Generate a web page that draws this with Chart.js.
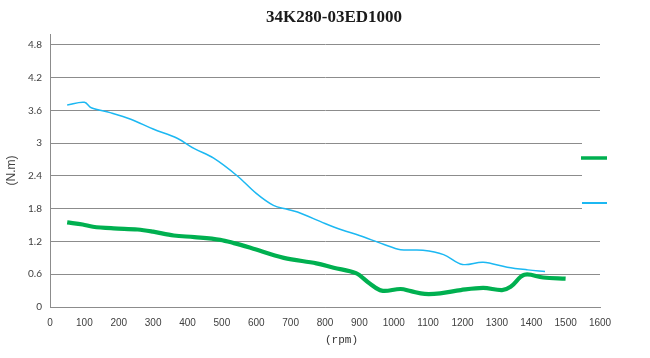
<!DOCTYPE html>
<html>
<head>
<meta charset="utf-8">
<script src="https://cdn.jsdelivr.net/npm/chart.js@4/dist/chart.umd.min.js"></script>
<style>
html,body{margin:0;padding:0;background:#fff;}
#wrap{width:650px;height:358px;position:relative;}
</style>
</head>
<body>
<div id="wrap"><canvas id="c" width="650" height="358"></canvas></div>
<script>
const chartTitle = '34K280-03ED1000';
const xTitle = '     (rpm)';
const yTitle = '(N.m)';
const xTicks = [0,100,200,300,400,500,600,700,800,900,1000,1100,1200,1300,1400,1500,1600];
const yTicks = [0,0.6,1.2,1.8,2.4,3,3.6,4.2,4.8];
const yTickLabels = ['0','0.6','1.2','1.8','2.4','3','3.6','4.2','4.8'];

const greenRpm = [50,95,125,185,255,300,360,420,495,535,585,680,775,825,890,930,965,1020,1050,1090,1135,1195,1260,1315,1340,1380,1435,1500];
const greenTorque = [1.55,1.51,1.47,1.44,1.42,1.38,1.31,1.28,1.23,1.17,1.08,0.90,0.80,0.72,0.62,0.43,0.30,0.33,0.29,0.24,0.25,0.31,0.35,0.31,0.37,0.59,0.54,0.52];

const blueRpm = [50,100,120,175,235,300,370,420,475,545,600,650,690,720,800,850,900,970,1020,1085,1145,1200,1260,1330,1390,1440];
const blueTorque = [3.70,3.75,3.65,3.56,3.44,3.26,3.09,2.90,2.73,2.40,2.08,1.86,1.79,1.74,1.53,1.41,1.31,1.15,1.05,1.04,0.96,0.78,0.82,0.73,0.68,0.65];

const toPts = (xs, ys) => xs.map((x, i) => ({x: x, y: ys[i]}));

const legendPlugin = {
  id: 'sideLegend',
  afterDraw(chart) {
    const ctx = chart.ctx;
    const a = chart.chartArea;
    const mid = (a.top + a.bottom) / 2;
    ctx.save();
    ctx.fillStyle = '#ffffff';
    ctx.fillRect(a.right - 18, mid - 38, 30, 82);
    const rows = [mid - 12.5, mid + 32.5];
    chart.data.datasets.forEach((ds, i) => {
      ctx.strokeStyle = ds.borderColor;
      ctx.lineWidth = i === 0 ? 3.5 : 2;
      ctx.beginPath();
      ctx.moveTo(a.right - 19 + (i === 0 ? 0 : 1), rows[i]);
      ctx.lineTo(a.right + 7, rows[i]);
      ctx.stroke();
    });
    ctx.restore();
  }
};

new Chart(document.getElementById('c'), {
  type: 'line',
  data: {
    datasets: [
      {
        label: '',
        data: toPts(greenRpm, greenTorque),
        borderColor: '#00b050',
        borderWidth: 4.2,
        pointRadius: 0,
        tension: 0.35,
        fill: false
      },
      {
        label: '',
        data: toPts(blueRpm, blueTorque),
        borderColor: '#1cb8f2',
        borderWidth: 1.5,
        pointRadius: 0,
        tension: 0.35,
        fill: false
      }
    ]
  },
  options: {
    responsive: false,
    animation: false,
    layout: { padding: { left: 18, right: 0, top: 0, bottom: 0 } },
    plugins: {
      legend: { display: false },
      tooltip: { enabled: false },
      title: {
        display: true,
        text: chartTitle,
        color: '#1a1a1a',
        font: { family: '"Liberation Serif", serif', size: 17, weight: 'bold' },
        padding: { top: 7, bottom: 6.6 }
      }
    },
    scales: {
      x: {
        type: 'linear',
        min: 0,
        max: 1600,
        afterBuildTicks: (s) => { s.ticks = xTicks.map(v => ({value: v})); },
        afterFit: (s) => { s.height = 51; },
        grid: { display: false, drawTicks: false },
        border: { display: true, color: '#8c8c8c', width: 1 },
        ticks: {
          color: '#404040',
          padding: 10,
          maxRotation: 0,
          autoSkip: false,
          font: { family: '"Liberation Sans", sans-serif', size: 10 },
          callback: (v) => String(v)
        },
        title: {
          display: true,
          text: xTitle,
          color: '#333333',
          font: { family: '"Liberation Mono", monospace', size: 11 },
          padding: { top: 0, bottom: 11.4 }
        }
      },
      y: {
        type: 'linear',
        min: 0,
        max: 5.0,
        afterBuildTicks: (s) => { s.ticks = yTicks.map(v => ({value: v})); },
        afterFit: (s) => { s.width = 32; },
        grid: {
          color: '#8c8c8c',
          lineWidth: 1,
          drawTicks: false
        },
        border: { display: true, color: '#8c8c8c', width: 1 },
        ticks: {
          color: '#404040',
          padding: 8,
          font: { family: 'Lato, sans-serif', size: 10 },
          callback: (v, i) => yTickLabels[i]
        },
        title: {
          display: true,
          text: yTitle,
          color: '#404040',
          font: { family: '"Liberation Sans", sans-serif', size: 12 },
          padding: { top: -14, bottom: 4 }
        }
      },
      yRight: {
        type: 'linear',
        position: 'right',
        min: 0,
        max: 5.0,
        afterFit: (s) => { s.width = 50; },
        grid: { display: false, drawOnChartArea: false, drawTicks: false },
        border: { display: false },
        ticks: { display: false }
      }
    }
  },
  plugins: [legendPlugin]
});
</script>
</body>
</html>
